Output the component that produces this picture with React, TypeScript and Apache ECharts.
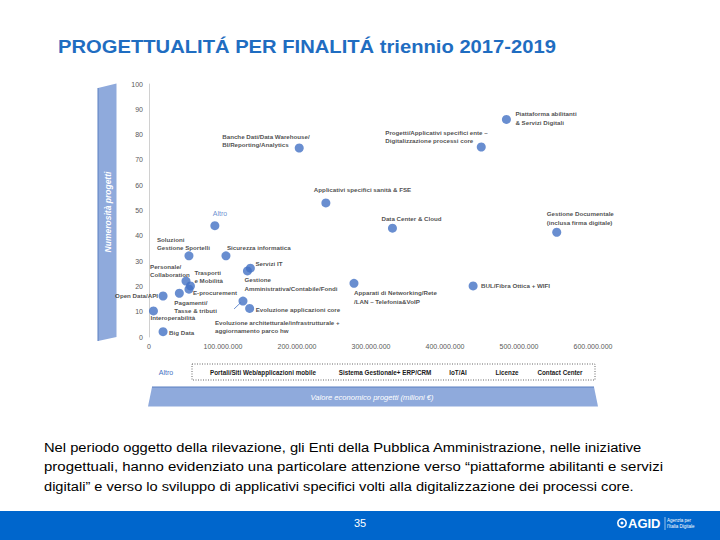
import React, { useEffect, useRef } from "react";
import * as echarts from "echarts";

// ---- data ----
const categories: string[] = [
  "Banche Dati/Data Warehouse/\nBI/Reporting/Analytics",
  "Applicativi specifici sanità & FSE",
  "Progetti/Applicativi specifici ente –\nDigitalizzazione processi core",
  "Piattaforma abilitanti\n& Servizi Digitali",
  "Data Center & Cloud",
  "Gestione Documentale\n(inclusa firma digitale)",
  "Apparati di Networking/Rete\n/LAN – Telefonia&VoIP",
  "BUL/Fibra Ottica + WIFI",
  "Altro",
  "Soluzioni\nGestione Sportelli",
  "Sicurezza informatica",
  "Servizi IT",
  "Gestione\nAmministrativa/Contabile/Fondi",
  "Personale/\nCollaboration",
  "Trasporti\ne Mobilità",
  "E-procurement",
  "Pagamenti/\nTasse & tributi",
  "Open Data/API",
  "Interoperabilità",
  "Big Data",
  "Evoluzione architetturale/infrastrutturale +\naggiornamento parco hw",
  "Evoluzione applicazioni core",
];
const economicValue: number[] = [
  203e6, 239e6, 449e6, 483e6, 329e6, 551e6, 277e6, 438e6, 89e6, 54e6, 104e6,
  137e6, 133e6, 50e6, 56e6, 54e6, 41e6, 19e6, 6e6, 19e6, 127e6, 136e6,
];
const projectCount: number[] = [
  74.7, 53, 75.1, 86, 43, 41.4, 21.2, 20.2, 44, 32.1, 32.1, 27.2, 26.1, 22.1,
  20.2, 18.9, 17.3, 16.2, 10.3, 2.1, 14.2, 11.3,
];
const yTicks = { min: 0, max: 100, interval: 10 };
const xTicks = { min: 0, max: 600e6, interval: 100e6 };
const otherCategoriesRow: string[] = [
  "Portali/Siti Web/applicazioni mobile",
  "Sistema Gestionale+ ERP/CRM",
  "IoT/AI",
  "Licenze",
  "Contact Center",
];
const leaderLine: [number, number][] = [
  [115e6, 11.1],
  [124e6, 13.6],
];

// ---- label placement (style only: pixel offsets from each dot) ----
const labelPlacement: { dx: number; dy: number; align?: "left" | "right"; color?: string }[] = [
  { dx: -77, dy: -16 },
  { dx: -12, dy: -18 },
  { dx: -96, dy: -19 },
  { dx: 9, dy: -10 },
  { dx: -11, dy: -14 },
  { dx: -10, dy: -23 },
  { dx: 0, dy: 5 },
  { dx: 8, dy: -4.5 },
  { dx: -2, dy: -16, color: "#4472C4" },
  { dx: -32, dy: -21 },
  { dx: 1, dy: -13 },
  { dx: 5, dy: -9 },
  { dx: -3, dy: 4.5 },
  { dx: -36, dy: -19 },
  { dx: 4, dy: -18 },
  { dx: 4, dy: -1 },
  { dx: -5, dy: 5 },
  { dx: -5, dy: -4.5, align: "right" },
  { dx: -3, dy: 2 },
  { dx: 6, dy: -3 },
  { dx: -28, dy: 17 },
  { dx: 6, dy: -3 },
];

const paragraphLines: string[] = [
  "Nel periodo oggetto della rilevazione, gli Enti della Pubblica Amministrazione, nelle iniziative",
  "progettuali, hanno evidenziato una particolare attenzione verso “piattaforme abilitanti e servizi",
  "digitali” e verso lo sviluppo di applicativi specifici volti alla digitalizzazione dei processi core.",
];
const titleText = "PROGETTUALITÁ PER FINALITÁ triennio 2017-2019";

const FONT = "'Liberation Sans', Arial, sans-serif";

function fitScale(text: string, font: string, target: number): number {
  const ctx = document.createElement("canvas").getContext("2d");
  if (!ctx) return 1;
  ctx.font = font;
  const w = ctx.measureText(text).width;
  return w > 0 ? target / w : 1;
}

function fmtDots(v: number): string {
  return Math.round(v)
    .toString()
    .replace(/\B(?=(\d{3})+(?!\d))/g, ".");
}

export default function App() {
  const ref = useRef<HTMLDivElement>(null);

  useEffect(() => {
    if (!ref.current) return;
    const chart = echarts.init(ref.current, undefined, { renderer: "svg" });

    const titleFont = `bold 18.5px ${FONT}`;
    const titleScale = fitScale(titleText, titleFont, 498);
    const paraFont = `13.5px ${FONT}`;
    const paraTargets = [598, 619, 590];
    const paraY = [447, 466.5, 486];

    const legendCenters = [263, 385, 458, 507, 560];

    const graphic: any[] = [
      {
        type: "text",
        x: 58,
        y: 46,
        scaleX: titleScale,
        style: {
          text: titleText,
          font: titleFont,
          fill: "#1F6DC1",
          align: "left",
          verticalAlign: "middle",
        },
      },
      // y-axis banner
      {
        type: "polygon",
        shape: { points: [[98, 88], [116.5, 83.5], [116.5, 337], [98, 341]] },
        style: { fill: "#8FAADC" },
      },
      {
        type: "polyline",
        shape: { points: [[98, 88], [98, 341]] },
        style: { stroke: "#5B7FC0", lineWidth: 1, fill: "none" },
      },
      {
        type: "text",
        x: 107.5,
        y: 212,
        rotation: Math.PI / 2,
        style: {
          text: "Numerosità progetti",
          font: `italic bold 8.5px ${FONT}`,
          fill: "#ffffff",
          align: "center",
          verticalAlign: "middle",
        },
      },
      // legend-like row
      {
        type: "text",
        x: 166,
        y: 372,
        style: {
          text: "Altro",
          font: `7px ${FONT}`,
          fill: "#4472C4",
          align: "center",
          verticalAlign: "middle",
        },
      },
      {
        type: "rect",
        shape: { x: 192, y: 364, width: 403, height: 16 },
        style: { fill: "none", stroke: "#404040", lineWidth: 0.8, lineDash: [1, 1.5] },
      },
      ...otherCategoriesRow.map((t, i) => ({
        type: "text",
        x: legendCenters[i],
        y: 372,
        style: {
          text: t,
          font: `bold 6.3px ${FONT}`,
          fill: "#1a1a1a",
          align: "center",
          verticalAlign: "middle",
        },
      })),
      // x-axis banner
      {
        type: "polygon",
        shape: { points: [[152, 387], [594, 387], [598, 406.5], [148, 406.5]] },
        style: { fill: "#8FAADC" },
      },
      {
        type: "polyline",
        shape: { points: [[152, 387], [594, 387]] },
        style: { stroke: "#5B7FC0", lineWidth: 1, fill: "none" },
      },
      {
        type: "text",
        x: 372,
        y: 397,
        style: {
          text: "Valore economico progetti (milioni €)",
          font: `italic 7.6px ${FONT}`,
          fill: "#ffffff",
          align: "center",
          verticalAlign: "middle",
        },
      },
      // paragraph
      ...paragraphLines.map((t, i) => ({
        type: "text",
        x: 44,
        y: paraY[i],
        scaleX: fitScale(t, paraFont, paraTargets[i]),
        style: {
          text: t,
          font: paraFont,
          fill: "#000000",
          align: "left",
          verticalAlign: "middle",
        },
      })),
      // footer
      {
        type: "rect",
        shape: { x: 0, y: 511, width: 720, height: 29 },
        style: { fill: "#0066CC" },
      },
      {
        type: "text",
        x: 360,
        y: 523,
        style: {
          text: "35",
          font: `11px ${FONT}`,
          fill: "#ffffff",
          align: "center",
          verticalAlign: "middle",
        },
      },
      {
        type: "circle",
        shape: { cx: 622, cy: 523, r: 4.2 },
        style: { fill: "none", stroke: "#ffffff", lineWidth: 1.6 },
      },
      {
        type: "circle",
        shape: { cx: 622, cy: 523, r: 1.5 },
        style: { fill: "#ffffff" },
      },
      {
        type: "text",
        x: 628,
        y: 523.5,
        style: {
          text: "AGID",
          font: `bold 13px ${FONT}`,
          fill: "#ffffff",
          align: "left",
          verticalAlign: "middle",
        },
      },
      {
        type: "line",
        shape: { x1: 665, y1: 517, x2: 665, y2: 530 },
        style: { stroke: "#ffffff", lineWidth: 0.6 },
      },
      {
        type: "text",
        x: 667,
        y: 520.5,
        style: {
          text: "Agenzia per",
          font: `4.5px ${FONT}`,
          fill: "#ffffff",
          align: "left",
          verticalAlign: "middle",
        },
      },
      {
        type: "text",
        x: 667,
        y: 526.5,
        style: {
          text: "l'Italia Digitale",
          font: `4.5px ${FONT}`,
          fill: "#ffffff",
          align: "left",
          verticalAlign: "middle",
        },
      },
    ];

    const data = categories.map((name, i) => {
      const p = labelPlacement[i];
      return {
        name,
        value: [economicValue[i], projectCount[i]],
        label: {
          show: true,
          position: "inside",
          align: p.align || "left",
          verticalAlign: "top",
          offset: [p.dx, p.dy],
          formatter: name,
          color: p.color || "#1a1a1a",
          fontFamily: FONT,
          fontSize: p.color ? 7 : 6.2,
          fontWeight: p.color ? "normal" : "bold",
          lineHeight: 8.5,
        },
      };
    });

    chart.setOption({
      animation: false,
      backgroundColor: "#ffffff",
      textStyle: { fontFamily: FONT },
      grid: { left: 149, top: 84, width: 444, height: 253 },
      xAxis: {
        type: "value",
        min: xTicks.min,
        max: xTicks.max,
        interval: xTicks.interval,
        axisLine: { show: false },
        axisTick: { show: false },
        splitLine: { show: false },
        axisLabel: {
          fontSize: 7,
          color: "#595959",
          margin: 6,
          formatter: (v: number) => fmtDots(v),
        },
      },
      yAxis: {
        type: "value",
        min: yTicks.min,
        max: yTicks.max,
        interval: yTicks.interval,
        axisLine: { show: true, lineStyle: { color: "#d0d0d0", width: 1 } },
        axisTick: { show: false },
        splitLine: { show: false },
        axisLabel: { fontSize: 7, color: "#595959", margin: 6 },
      },
      series: [
        {
          type: "scatter",
          symbol: "circle",
          symbolSize: 9,
          itemStyle: { color: "#4472C4" },
          emphasis: { disabled: true },
          data,
          markLine: {
            silent: true,
            symbol: ["none", "none"],
            label: { show: false },
            lineStyle: { color: "#4472C4", width: 0.8, type: "solid" },
            data: [
              [
                { coord: leaderLine[0] },
                { coord: leaderLine[1] },
              ],
            ],
          },
        },
      ],
      graphic,
    });

    return () => chart.dispose();
  }, []);

  return (
    <div
      ref={ref}
      style={{ position: "absolute", left: 0, top: 0, width: 720, height: 540 }}
    />
  );
}
